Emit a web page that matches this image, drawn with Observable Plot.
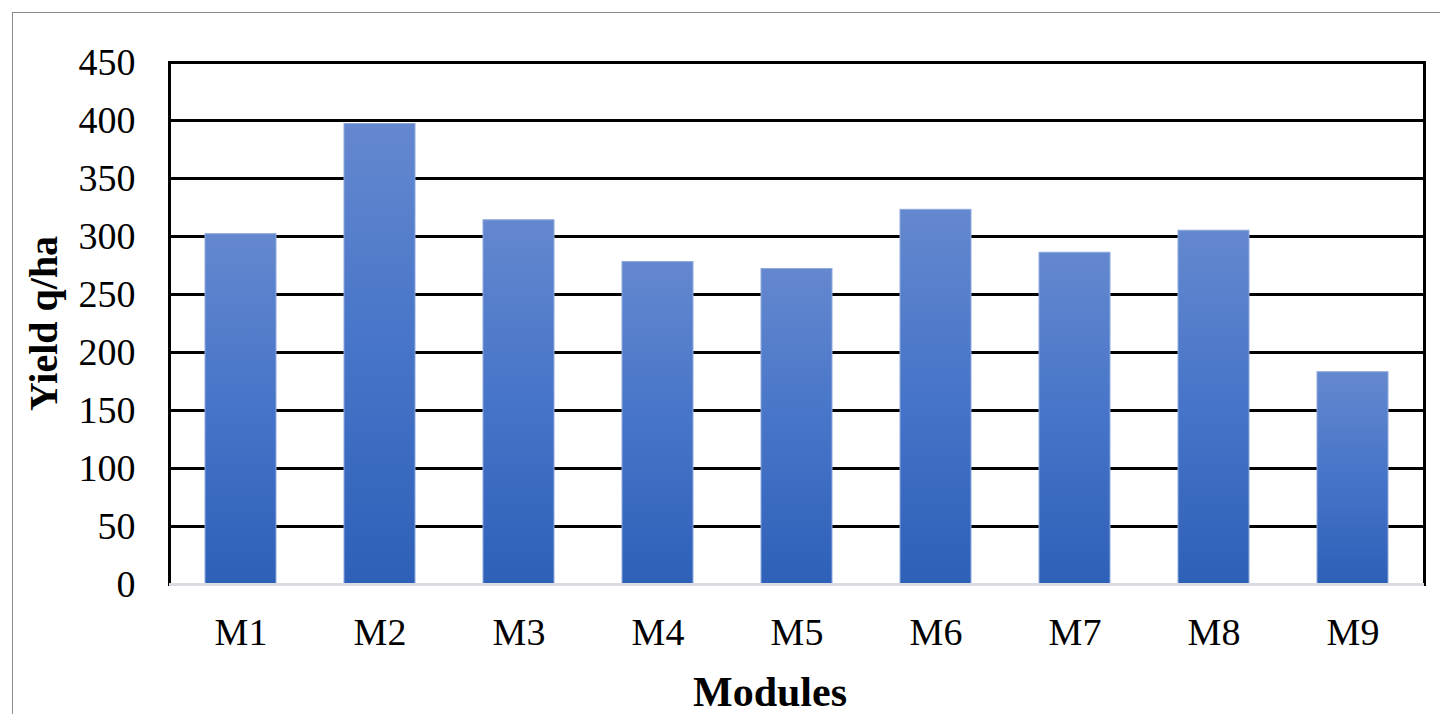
<!DOCTYPE html>
<html>
<head>
<meta charset="utf-8">
<script src="https://cdn.jsdelivr.net/npm/d3@7"></script>
<script src="https://cdn.jsdelivr.net/npm/@observablehq/plot@0.6"></script>
<style>
  html, body { margin: 0; padding: 0; background: #fff; overflow: hidden; width: 1440px; height: 714px; }
  #border { position: absolute; left: 12px; top: 12px; width: 1600px; height: 900px; border: 1.5px solid #8a8a8a; box-sizing: border-box; }
  #chart { position: absolute; left: 0; top: 0; }
</style>
</head>
<body>
<div id="border"></div>
<div id="chart"></div>
<script>
const modules = ["M1", "M2", "M3", "M4", "M5", "M6", "M7", "M8", "M9"];
const yieldValues = [302, 397, 314, 278, 272, 323, 286, 305, 183];
const yTicks = [0, 50, 100, 150, 200, 250, 300, 350, 400, 450];
const xTitle = "Modules";
const yTitle = "Yield q/ha";

const data = modules.map((m, i) => ({module: m, value: yieldValues[i]}));
const font = "'Liberation Serif', 'Times New Roman', serif";

const plot = Plot.plot({
  width: 1440,
  height: 714,
  marginLeft: 169,
  marginRight: 16,
  marginTop: 62,
  marginBottom: 130,
  style: {fontFamily: font, background: "transparent", color: "#000", overflow: "visible"},
  x: {domain: modules, paddingInner: 0.49, paddingOuter: 0.245},
  y: {domain: [0, 450]},
  marks: [
    Plot.ruleY(yTicks.filter(d => d > 0), {stroke: "#000", strokeWidth: 3}),
    Plot.frame({stroke: "#000", strokeWidth: 3}),
    Plot.barY(data, {x: "module", y: "value", fill: "url(#barGrad)", stroke: "#8fa9dc", strokeWidth: 1}),
    Plot.ruleY([0], {stroke: "#d9dde3", strokeWidth: 3}),
    Plot.axisY({ticks: yTicks, tickSize: 0, tickPadding: 34, fontSize: 38, fill: "#000", label: null}),
    Plot.axisX({tickSize: 0, tickPadding: 34, fontSize: 38, fill: "#000", label: null}),
    Plot.text([yTitle], {frameAnchor: "left", textAnchor: "middle", dx: -125, rotate: -90, fontSize: 40, fontWeight: "bold", fill: "#000"}),
    Plot.text([xTitle], {frameAnchor: "bottom", textAnchor: "middle", dx: -27, dy: 121, fontSize: 42, fontWeight: "bold", fill: "#000"})
  ]
});

const svg = d3.select(plot);
const defs = svg.insert("defs", ":first-child");
const grad = defs.append("linearGradient")
  .attr("id", "barGrad")
  .attr("x1", 0).attr("y1", 0).attr("x2", 0).attr("y2", 1);
grad.append("stop").attr("offset", "0%").attr("stop-color", "#6488cf");
grad.append("stop").attr("offset", "50%").attr("stop-color", "#4674c8");
grad.append("stop").attr("offset", "100%").attr("stop-color", "#2e60b8");

document.getElementById("chart").appendChild(plot);
</script>
</body>
</html>
